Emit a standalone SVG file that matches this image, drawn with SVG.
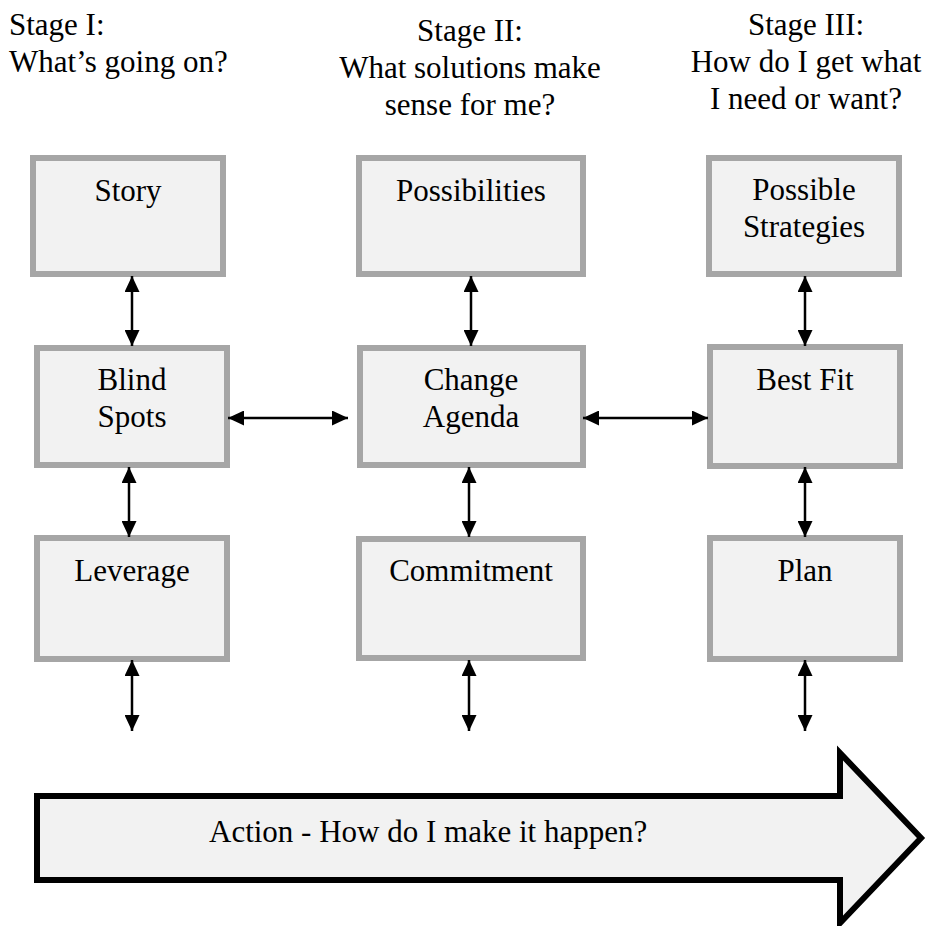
<svg xmlns="http://www.w3.org/2000/svg" width="927" height="926" viewBox="0 0 927 926">
<style>
  .box { fill: #f2f2f2; stroke: #a6a6a6; stroke-width: 6; }
  .t { font-family: "Liberation Serif", "Times New Roman", serif; font-size: 31px; fill: #000; }
  .c { text-anchor: middle; }
  .conn { stroke: #000; stroke-width: 2.5; fill: none; marker-start: url(#ah); marker-end: url(#ah); }
</style>
<defs>
  <marker id="ah" viewBox="0 0 16 16" refX="16" refY="8" markerWidth="16" markerHeight="15" markerUnits="userSpaceOnUse" orient="auto-start-reverse" preserveAspectRatio="none">
    <path d="M0,0 L16,8 L0,16 z" fill="#000"/>
  </marker>
</defs>
<rect width="927" height="926" fill="#fff"/>

<g id="stage1">
  <text class="t" x="9" y="35">Stage I:</text>
  <text class="t" x="9" y="72">What’s going on?</text>
</g>
<g id="stage2">
  <text class="t c" x="470" y="41">Stage II:</text>
  <text class="t c" x="470" y="78">What solutions make</text>
  <text class="t c" x="470" y="115">sense for me?</text>
</g>
<g id="stage3">
  <text class="t c" x="806" y="35">Stage III:</text>
  <text class="t c" x="806" y="72">How do I get what</text>
  <text class="t c" x="806" y="109">I need or want?</text>
</g>

<g id="story">
  <rect class="box" x="33" y="158" width="190" height="116"/>
  <text class="t c" x="128" y="201">Story</text>
</g>
<g id="blind-spots">
  <rect class="box" x="37" y="348" width="190" height="117"/>
  <text class="t c" x="132" y="390">Blind</text>
  <text class="t c" x="132" y="427">Spots</text>
</g>
<g id="leverage">
  <rect class="box" x="37" y="538" width="190" height="121"/>
  <text class="t c" x="132" y="581">Leverage</text>
</g>

<g id="possibilities">
  <rect class="box" x="359" y="158" width="224" height="116"/>
  <text class="t c" x="471" y="201">Possibilities</text>
</g>
<g id="change-agenda">
  <rect class="box" x="360" y="348" width="223" height="117"/>
  <text class="t c" x="471" y="390">Change</text>
  <text class="t c" x="471" y="427">Agenda</text>
</g>
<g id="commitment">
  <rect class="box" x="359" y="539" width="224" height="119"/>
  <text class="t c" x="471" y="581">Commitment</text>
</g>

<g id="possible-strategies">
  <rect class="box" x="709" y="158" width="190" height="116"/>
  <text class="t c" x="804" y="200">Possible</text>
  <text class="t c" x="804" y="237">Strategies</text>
</g>
<g id="best-fit">
  <rect class="box" x="710" y="347" width="190" height="119"/>
  <text class="t c" x="805" y="390">Best Fit</text>
</g>
<g id="plan">
  <rect class="box" x="710" y="538" width="190" height="121"/>
  <text class="t c" x="805" y="581">Plan</text>
</g>

<g id="connectors">
  <line class="conn" x1="132" y1="276" x2="132" y2="346"/>
  <line class="conn" x1="129" y1="467" x2="129" y2="537"/>
  <line class="conn" x1="132" y1="660" x2="132" y2="731"/>

  <line class="conn" x1="471" y1="276" x2="471" y2="346"/>
  <line class="conn" x1="469" y1="467" x2="469" y2="537"/>
  <line class="conn" x1="469" y1="660" x2="469" y2="731"/>

  <line class="conn" x1="805" y1="276" x2="805" y2="346"/>
  <line class="conn" x1="805" y1="467" x2="805" y2="537"/>
  <line class="conn" x1="805" y1="660" x2="805" y2="731"/>

  <line class="conn" x1="228" y1="418" x2="348" y2="418"/>
  <line class="conn" x1="583" y1="418" x2="708" y2="418"/>
</g>

<g id="action">
  <path d="M37,796 L840,796 L840,753 L921,838 L840,923 L840,880 L37,880 Z" fill="#f2f2f2" stroke="#000" stroke-width="6" stroke-linejoin="miter"/>
  <text class="t" x="209" y="842">Action - How do I make it happen?</text>
</g>
</svg>
